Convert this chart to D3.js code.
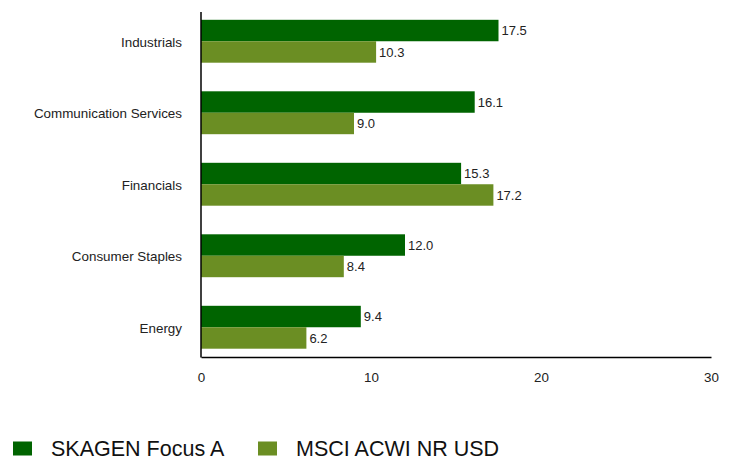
<!DOCTYPE html>
<html><head><meta charset="utf-8">
<script src="https://cdn.jsdelivr.net/npm/d3@7"></script>
<style>body{margin:0;background:#fff}svg{display:block;font-family:Arial,"Liberation Sans",sans-serif}</style>
</head><body><svg id="c" width="732" height="458"></svg>
<script>
const categories = ["Industrials","Communication Services","Financials","Consumer Staples","Energy"];
const seriesNames = ["SKAGEN Focus A","MSCI ACWI NR USD"];
const fundValues = [17.5,16.1,15.3,12.0,9.4];
const benchValues = [10.3,9.0,17.2,8.4,6.2];
const xTicks = [0,10,20,30];
const colors = ["#006400","#6b8e23"];
const FONT = "Arial, 'Liberation Sans', sans-serif";

const svg = d3.select("#c");
const x = d3.scaleLinear().domain([0,30]).range([201,711]);
const y = d3.scaleBand().domain(categories).range([5.5,363]).paddingInner(0.4).paddingOuter(0.2);
const sub = d3.scaleBand().domain([0,1]).range([0,y.bandwidth()]);
const series = [fundValues, benchValues];

series.forEach((vals,si)=>{
  const g = svg.append("g");
  g.selectAll("rect").data(categories).join("rect")
    .attr("x", x(0)).attr("y", (c)=>y(c)+sub(si))
    .attr("width",(c,i)=>x(vals[i])-x(0)).attr("height", sub.bandwidth())
    .attr("fill", colors[si]);
  g.selectAll("text").data(categories).join("text")
    .attr("x",(c,i)=>x(vals[i])+3).attr("y",(c)=>y(c)+sub(si)+sub.bandwidth()/2)
    .attr("dy","0.36em").attr("font-size",13).attr("fill","#222").style("font-family",FONT)
    .text((c,i)=>vals[i].toFixed(1));
});

// y axis
const ya = svg.append("g").attr("transform",`translate(${x(0)},0)`)
  .call(d3.axisLeft(y).tickSize(0).tickPadding(19));
ya.select(".domain").remove();
ya.selectAll("text").attr("font-size",13.4).attr("fill","#222").attr("dy","0.4em").style("font-family",FONT);
svg.append("line").attr("x1",x(0)).attr("x2",x(0)).attr("y1",12).attr("y2",357.5).attr("stroke","#000").attr("stroke-width",1.5);

// x axis
const xa = svg.append("g").attr("transform","translate(0,357)")
  .call(d3.axisBottom(x).tickValues(xTicks).tickSize(0).tickPadding(15).tickFormat(d3.format("d")));
xa.select(".domain").attr("stroke","#000").attr("stroke-width",1.5);
xa.selectAll("text").attr("font-size",13.4).attr("fill","#222").style("font-family",FONT);

// legend
const leg = svg.append("g");
const legX = [13,258];
seriesNames.forEach((n,i)=>{
  leg.append("rect").attr("x",legX[i]).attr("y",441.5).attr("width",19).attr("height",14).attr("fill",colors[i]);
  leg.append("text").attr("x",legX[i]+38).attr("y",455.5).attr("font-size",21.5).attr("fill","#111").style("font-family",FONT).text(n);
});
</script></body></html>
